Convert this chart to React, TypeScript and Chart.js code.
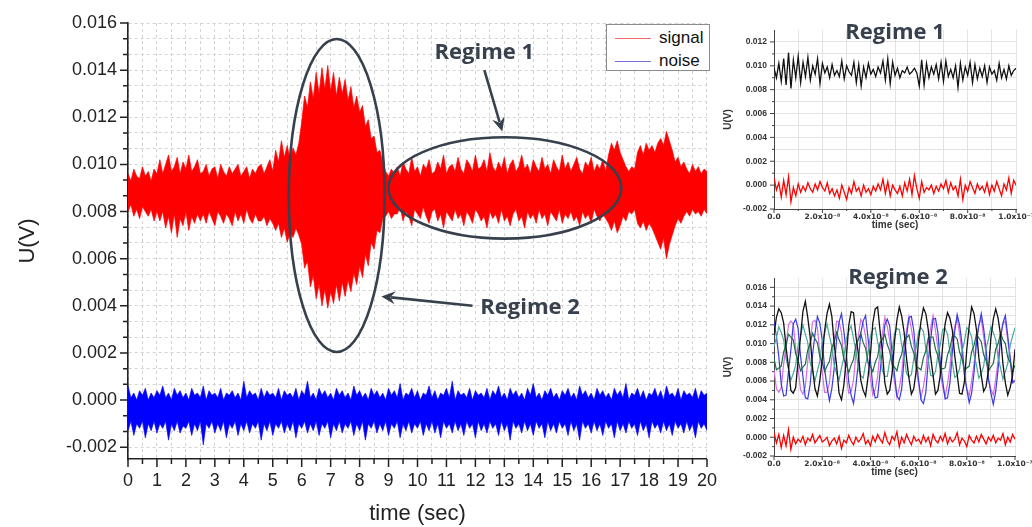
import React, { useEffect, useRef } from 'react';
import { Chart, registerables } from 'chart.js';

Chart.register(...registerables);

const FONT = "'Liberation Sans', Arial, Helvetica, sans-serif";
const SUP_FONT = "'DejaVu Sans', 'Liberation Sans', sans-serif";
const NOTE_FONT = "'Open Sans', 'DejaVu Sans', sans-serif";
const NOTE_COLOR = '#37404d';

// ---------------- main chart (values in mV, one sample every MAIN_DT s) ----------------
const MAIN_DT = 0.1;
const MAIN_X_TICKS = [0, 1, 2, 3, 4, 5, 6, 7, 8, 9, 10, 11, 12, 13, 14, 15, 16, 17, 18, 19, 20];
const MAIN_Y_TICKS = [-0.002, 0, 0.002, 0.004, 0.006, 0.008, 0.01, 0.012, 0.014, 0.016];

const SIGNAL_UPPER_MV = [
  9.6, 9.3, 9.8, 9.5, 9.4, 9.9, 9.5, 9.7, 9.3, 9.8, 9.6,
  10.2, 9.6, 10.0, 10.4, 9.7, 9.9, 10.3, 9.6, 10.1, 9.8, 10.4, 9.7, 9.9, 10.2, 9.6,
  9.7, 10.0, 9.5, 9.8, 9.9, 9.4, 10.0, 9.7, 9.5, 9.9, 9.6, 9.8, 10.0, 9.5, 9.7, 9.9, 9.4, 9.8, 9.6, 9.9,
  10.0, 9.6, 9.9, 10.2, 9.7,
  10.6, 10.1, 11.0, 10.3, 10.8, 10.2, 10.7, 10.4, 10.9,
  11.8, 12.9, 12.4, 13.5, 12.8, 13.9, 13.0, 14.1, 13.2, 14.2, 13.1, 13.9, 12.9, 13.7, 13.0,
  13.6, 12.7, 13.3, 12.4, 12.9, 12.2, 12.5, 11.6, 11.9, 11.1, 11.2, 10.5, 10.6, 10.1,
  9.7, 9.5, 9.8, 9.6,
  9.9, 9.5, 10.1, 9.8, 9.6, 10.3, 9.7, 9.9, 9.5, 10.0,
  9.8, 10.2, 9.6, 9.7, 10.1, 9.8, 10.4, 9.6, 9.9, 10.0,
  9.7, 10.3, 9.8, 9.6, 10.2, 10.0, 9.7, 10.4, 9.8, 9.9,
  10.2, 9.7, 10.5, 9.9, 9.7, 10.1, 9.8, 10.3, 9.6, 10.0,
  10.2, 9.7, 9.9, 10.4, 9.8, 10.0, 9.6, 10.2, 9.9, 9.7,
  10.3, 9.8, 10.0, 9.6, 10.2, 9.9, 9.7, 10.4, 9.8, 10.1,
  9.7, 10.0, 10.3, 9.8, 9.6, 10.1, 9.9, 10.3, 9.7, 10.0,
  9.8, 10.2, 9.7,
  10.4, 10.9, 10.6, 11.0, 10.5, 10.2, 9.9,
  9.7, 9.9, 9.8,
  10.5, 10.8, 10.4, 10.9, 10.6, 10.8, 10.5,
  10.9, 11.1, 10.8, 11.4, 11.0, 10.6,
  10.1, 10.3, 9.9, 10.1,
  9.8, 9.6, 10.0, 9.7, 9.9, 9.6, 9.8, 9.7,
];

const SIGNAL_LOWER_MV = [
  8.0, 8.3, 7.8, 8.1, 7.7, 8.2, 8.0, 7.8, 8.1, 7.6, 8.0,
  7.6, 8.0, 7.3, 7.8, 7.1, 7.9, 6.9, 7.7, 7.4, 8.0, 7.2, 7.8, 7.5, 7.9, 7.6,
  7.9, 7.5, 8.0, 7.7, 7.4, 8.0, 7.8, 7.5, 7.9, 7.7, 7.4, 8.0, 7.6, 7.9, 7.5, 8.1, 7.7, 7.5, 7.9, 7.6,
  7.6, 7.8, 7.4, 7.7, 7.5,
  7.2, 7.5, 6.9, 7.3, 6.7, 7.1, 6.9, 7.3, 7.0,
  6.6, 5.6, 5.9, 4.8, 5.3, 4.3, 4.9, 4.0, 4.7, 3.9, 4.6, 4.1, 4.9, 4.2, 5.0,
  4.4, 5.1, 4.6, 5.4, 4.9, 5.7, 5.2, 6.2, 5.7, 6.7, 6.4, 7.2, 7.1, 7.7,
  7.8, 8.0, 7.7, 7.9,
  7.9, 8.2, 7.6, 8.0, 7.8, 7.4, 8.1, 7.9, 7.7, 8.2,
  7.8, 7.5, 8.0, 8.1, 7.6, 7.9, 7.3, 8.0, 7.8, 7.6,
  8.1, 7.7, 7.9, 7.4, 8.0, 7.8, 7.5, 8.1, 7.9, 7.6,
  7.8, 7.3, 8.0, 7.7, 7.9, 7.5, 8.1, 7.6, 7.8, 7.4,
  7.9, 8.1, 7.6, 7.8, 7.3, 8.0, 7.7, 7.9, 7.5, 8.1,
  7.7, 7.9, 7.4, 8.0, 7.8, 7.6, 8.1, 7.5, 7.9, 7.7,
  8.0, 7.6, 7.8, 7.4, 8.0, 7.7, 7.9, 7.5, 8.1, 7.8,
  7.6, 7.9, 7.7,
  7.5, 7.2, 7.6, 7.1, 7.4, 7.8, 7.6,
  8.0, 7.9, 8.1,
  7.5, 7.3, 7.6, 7.2, 7.5, 7.3, 7.0,
  6.7, 6.4, 6.9, 6.0, 6.6, 7.0,
  7.4, 7.7, 7.5, 7.8,
  8.0, 7.8, 8.1, 7.9, 8.0, 7.8, 8.1, 7.9,
];

const NOISE_UPPER_MV = [
  0.6, 0.1, 0.3, 0.0, 0.4, 0.2, 0.5, 0.0, 0.3, 0.1,
  0.4, 0.2, 0.6, 0.1, 0.3, 0.0, 0.5, 0.2, 0.4, 0.1,
  0.3, 0.0, 0.5, 0.2, 0.3, 0.1, 0.6, 0.0, 0.4, 0.2,
  0.3, 0.1, 0.5, 0.0, 0.3, 0.2, 0.4, 0.1, 0.3, 0.0,
  0.8, 0.1, 0.4, 0.2, 0.3, 0.0, 0.5, 0.1, 0.4, 0.2,
  0.3, 0.1, 0.5, 0.0, 0.4, 0.2, 0.3, 0.1, 0.5, 0.0,
  0.4, 0.2, 0.8, 0.1, 0.3, 0.0, 0.5, 0.2, 0.4, 0.1,
  0.3, 0.0, 0.5, 0.2, 0.4, 0.1, 0.3, 0.0, 0.6, 0.2,
  0.4, 0.1, 0.3, 0.0, 0.5, 0.2, 0.4, 0.1, 0.3, 0.0,
  0.5, 0.2, 0.4, 0.1, 0.7, 0.0, 0.3, 0.2, 0.5, 0.1,
  0.4, 0.0, 0.3, 0.2, 0.6, 0.1, 0.4, 0.0, 0.3, 0.2,
  0.5, 0.1, 0.8, 0.0, 0.4, 0.2, 0.3, 0.1, 0.5, 0.0,
  0.4, 0.2, 0.3, 0.1, 0.5, 0.0, 0.4, 0.2, 0.6, 0.1,
  0.3, 0.0, 0.5, 0.2, 0.4, 0.1, 0.3, 0.0, 0.5, 0.2,
  0.7, 0.1, 0.3, 0.0, 0.4, 0.2, 0.5, 0.1, 0.3, 0.0,
  0.4, 0.2, 0.5, 0.1, 0.3, 0.0, 0.6, 0.2, 0.4, 0.1,
  0.3, 0.0, 0.5, 0.2, 0.4, 0.1, 0.3, 0.0, 0.5, 0.2,
  0.4, 0.1, 0.7, 0.0, 0.3, 0.2, 0.5, 0.1, 0.4, 0.0,
  0.3, 0.2, 0.5, 0.1, 0.4, 0.0, 0.6, 0.2, 0.3, 0.1,
  0.5, 0.0, 0.4, 0.2, 0.3, 0.1, 0.5, 0.0, 0.4, 0.2,
  0.3,
];

const NOISE_LOWER_MV = [
  -1.3, -0.9, -1.5, -1.0, -1.2, -0.9, -1.6, -1.0, -1.3, -0.9,
  -1.4, -1.0, -1.2, -0.9, -1.7, -1.0, -1.3, -0.9, -1.4, -1.1,
  -1.2, -0.9, -1.5, -1.0, -1.3, -0.9, -1.9, -1.0, -1.2, -0.9,
  -1.4, -1.0, -1.3, -0.9, -1.6, -1.0, -1.2, -0.9, -1.5, -1.0,
  -1.3, -0.9, -1.4, -1.0, -1.2, -0.9, -1.7, -1.0, -1.3, -0.9,
  -1.5, -1.0, -1.2, -0.9, -1.4, -1.0, -1.3, -0.9, -1.6, -1.0,
  -1.2, -0.9, -1.4, -1.0, -1.3, -0.9, -1.5, -1.0, -1.2, -0.9,
  -1.6, -1.0, -1.3, -0.9, -1.4, -1.0, -1.2, -0.9, -1.5, -1.0,
  -1.3, -0.9, -1.7, -1.0, -1.2, -0.9, -1.4, -1.0, -1.3, -0.9,
  -1.5, -1.0, -1.2, -0.9, -1.6, -1.0, -1.3, -0.9, -1.4, -1.0,
  -1.2, -0.9, -1.5, -1.0, -1.3, -0.9, -1.4, -1.0, -1.6, -0.9,
  -1.2, -1.0, -1.4, -0.9, -1.3, -1.0, -1.5, -0.9, -1.2, -1.0,
  -1.6, -0.9, -1.3, -1.0, -1.4, -0.9, -1.2, -1.0, -1.5, -0.9,
  -1.3, -1.0, -1.7, -0.9, -1.2, -1.0, -1.4, -0.9, -1.3, -1.0,
  -1.5, -0.9, -1.2, -1.0, -1.6, -0.9, -1.3, -1.0, -1.4, -0.9,
  -1.2, -1.0, -1.5, -0.9, -1.3, -1.0, -1.7, -0.9, -1.2, -1.0,
  -1.4, -0.9, -1.3, -1.0, -1.5, -0.9, -1.2, -1.0, -1.6, -0.9,
  -1.3, -1.0, -1.4, -0.9, -1.2, -1.0, -1.5, -0.9, -1.3, -1.0,
  -1.6, -0.9, -1.2, -1.0, -1.4, -0.9, -1.3, -1.0, -1.5, -0.9,
  -1.2, -1.0, -1.4, -0.9, -1.3, -1.0, -1.6, -0.9, -1.2, -1.0,
  -1.3,
];

// annotations (data coordinates of the main chart)
const ELLIPSE_REGIME2 = { t: 7.21, u: 0.00868, rt: 1.655, ru: 0.00664 };
const ELLIPSE_REGIME1 = { t: 13.02, u: 0.009, rt: 4.02, ru: 0.00215 };
const ARROW_REGIME1 = { t1: 12.31, u1: 0.0140, t2: 12.93, u2: 0.0114 };
const ARROW_REGIME2 = { t1: 11.9, u1: 0.0040, t2: 8.75, u2: 0.0044 };
const LABEL_REGIME1 = { t: 12.31, u: 0.01472, text: 'Regime 1' };
const LABEL_REGIME2 = { t: 12.17, u: 0.00391, text: 'Regime 2' };

// ---------------- inset charts (values in mV, one sample every SMALL_DT s) ----------------
const SMALL_DT = 1e-9;
const SMALL_X_TICKS = [0, 2e-8, 4e-8, 6e-8, 8e-8, 1e-7];
const SMALL_X_TICK_LABELS = ['0.0', '2.0x10⁻⁸', '4.0x10⁻⁸', '6.0x10⁻⁸', '8.0x10⁻⁸', '1.0x10⁻⁷'];
const R1_Y_TICKS = [-0.002, 0, 0.002, 0.004, 0.006, 0.008, 0.01, 0.012];
const R2_Y_TICKS = [-0.002, 0, 0.002, 0.004, 0.006, 0.008, 0.01, 0.012, 0.014, 0.016];

const R1_SIGNAL_MV = [
  9.8, 9.0, 10.2, 8.7, 10.6, 8.4, 11.1, 8.1, 10.5, 9.0,
  10.8, 8.6, 10.3, 9.1, 10.7, 8.8, 10.0, 9.3, 10.6, 8.5,
  10.2, 9.4, 9.9, 9.0, 10.1, 9.2, 9.6, 9.1, 10.4, 8.9,
  10.0, 9.5, 9.2, 10.3, 8.6, 10.1, 8.3, 9.9, 9.0, 10.2,
  9.3, 9.7, 9.1, 9.9, 9.4, 10.4, 8.8, 10.6, 8.5, 10.3,
  9.2, 9.8, 9.0, 9.6, 9.4, 9.9, 9.3, 9.5, 9.8, 9.4,
  8.3, 10.5, 8.4, 10.2, 9.0, 9.9, 9.3, 10.1, 8.9, 10.3,
  8.7, 10.4, 9.1, 9.7, 9.0, 10.0, 8.2, 10.2, 8.8, 9.9,
  9.2, 10.3, 8.6, 10.1, 8.9, 9.8, 9.1, 10.0, 8.6, 9.9,
  9.3, 9.6, 8.8, 10.2, 9.0, 9.7, 8.9, 10.0, 9.2, 9.6,
  9.8,
];
const R1_NOISE_MV = [
  0.6, -0.4, 0.2, -1.0, 0.4, -0.8, 0.7, -1.4, -0.2, -0.9,
  0.1, -0.6, -0.1, -0.5, 0.2, -0.3, -0.6, 0.1, -0.4, 0.3,
  -0.2, -0.5, 0.2, -0.7, -0.3, -0.9, -0.4, -1.1, 0.0, -0.6,
  -1.2, -0.2, -0.7, 0.3, -0.5, -0.2, -0.9, 0.0, -0.6, -0.3,
  -0.8, -0.1, -0.5, 0.1, -0.4, 0.5, -0.7, 0.3, -0.9, 0.0,
  -0.4, -0.7, -0.1, -0.9, 0.2, -0.5, 0.5, -0.8, 0.8, -0.3,
  -1.1, 0.3, -0.6, -0.2, -0.4, 0.0, -0.7, -0.1, -0.5, 0.1,
  -0.3, 0.4, -0.6, 0.2, -0.4, -0.1, -0.9, 0.5, -1.2, 0.0,
  -0.5, 0.3, -0.2, -0.7, 0.1, -0.4, -0.1, -0.6, 0.2, -0.8,
  0.0, -0.5, 0.3, -0.3, -0.9, 0.1, -0.4, 0.6, -0.7, 0.4,
  0.0,
];

const R2_BLACK_MV = [
  11.0, 12.8, 13.7, 13.3, 12.2, 9.6, 7.5, 5.0, 4.7, 5.3,
  8.2, 10.7, 13.4, 14.5, 12.8, 10.7, 7.4, 5.2, 4.4, 6.0,
  8.3, 11.4, 13.2, 14.2, 12.9, 9.9, 7.6, 4.7, 4.0, 5.6,
  8.4, 11.9, 13.4, 13.3, 10.8, 8.9, 6.1, 5.0, 4.4, 6.4,
  8.8, 12.2, 13.7, 13.9, 11.4, 9.1, 5.8, 4.6, 5.0, 6.8,
  10.2, 12.5, 13.9, 12.9, 11.2, 8.4, 6.3, 4.6, 5.2, 7.1,
  10.4, 12.4, 13.8, 13.2, 11.5, 8.6, 6.6, 4.6, 5.0, 6.6,
  9.8, 12.1, 13.3, 12.7, 11.4, 8.7, 6.7, 4.7, 4.6, 5.9,
  9.4, 11.9, 13.9, 13.2, 11.5, 8.5, 6.6, 4.9, 5.4, 7.2,
  10.6, 12.6, 13.7, 12.7, 10.9, 7.8, 5.8, 4.5, 5.3, 6.6,
  9.4,
];
const R2_BLUE_MV = [
  12.3, 10.8, 8.6, 5.7, 4.4, 4.5, 7.0, 9.3, 12.1, 12.6,
  11.6, 8.7, 6.5, 4.2, 4.1, 5.6, 8.8, 11.0, 12.9, 12.2,
  10.4, 7.3, 5.4, 3.9, 5.2, 7.4, 10.5, 12.3, 13.2, 11.3,
  9.0, 5.9, 4.5, 3.6, 5.5, 8.0, 11.1, 12.4, 13.0, 10.6,
  8.2, 5.4, 4.2, 4.3, 6.9, 9.4, 12.0, 12.6, 11.9, 8.9,
  6.7, 4.4, 4.0, 5.2, 8.5, 10.8, 12.8, 12.9, 11.4, 8.3,
  6.1, 4.0, 3.6, 4.8, 8.1, 10.4, 12.6, 12.7, 11.2, 8.0,
  6.0, 4.1, 4.2, 5.8, 9.1, 11.3, 13.1, 12.0, 10.0, 6.8,
  5.1, 3.7, 4.7, 6.9, 10.1, 11.9, 13.2, 11.6, 9.4, 6.2,
  4.7, 3.5, 4.9, 7.3, 10.6, 12.2, 13.0, 10.8, 8.5, 5.8,
  6.0,
];
const R2_MAGENTA_MV = [
  7.2, 5.2, 4.8, 5.3, 7.8, 9.7, 12.0, 12.4, 12.1, 9.5,
  7.4, 5.1, 4.6, 5.4, 8.1, 10.1, 12.3, 12.5, 11.7, 9.0,
  7.0, 4.8, 4.8, 5.8, 8.5, 10.4, 12.4, 12.3, 11.2, 8.5,
  6.6, 4.7, 4.9, 6.1, 9.0, 10.8, 12.6, 12.1, 10.8, 8.0,
  6.3, 4.5, 5.1, 6.5, 9.3, 11.1, 12.8, 11.8, 10.3, 7.6,
  5.9, 4.3, 5.3, 6.8, 9.7, 11.4, 12.9, 11.6, 9.9, 7.2,
  5.7, 4.2, 5.4, 7.1, 10.0, 11.7, 13.0, 11.4, 9.5, 6.8,
  5.4, 4.3, 5.7, 7.5, 10.3, 11.8, 12.7, 11.0, 9.2, 6.5,
  5.2, 4.4, 6.0, 7.8, 10.6, 12.0, 12.6, 10.7, 8.8, 6.2,
  5.1, 4.5, 6.2, 8.2, 10.9, 12.1, 12.4, 10.3, 8.4, 6.0,
  6.1,
];
const R2_TEAL_MV = [
  9.7, 10.6, 11.8, 11.2, 10.4, 8.4, 7.3, 6.1, 6.8, 7.7,
  9.8, 10.8, 12.0, 11.0, 10.1, 8.0, 7.0, 6.0, 7.1, 8.1,
  10.2, 11.1, 12.1, 10.8, 9.7, 7.7, 6.8, 6.1, 7.4, 8.5,
  10.5, 11.3, 11.9, 10.5, 9.3, 7.3, 6.6, 6.3, 7.8, 8.9,
  10.8, 11.5, 11.7, 10.2, 9.0, 7.1, 6.5, 6.5, 8.1, 9.2,
  11.1, 11.6, 11.5, 9.8, 8.6, 6.8, 6.4, 6.7, 8.4, 9.6,
  11.3, 11.7, 11.3, 9.5, 8.3, 6.6, 6.5, 7.0, 8.8, 9.9,
  11.5, 11.6, 11.0, 9.1, 8.0, 6.4, 6.6, 7.3, 9.1, 10.2,
  11.7, 11.4, 10.7, 8.8, 7.7, 6.3, 6.8, 7.6, 9.5, 10.5,
  11.8, 11.2, 10.4, 8.5, 7.4, 6.2, 7.0, 7.9, 9.8, 10.8,
  11.7,
];
const R2_GREEN_MV = [
  8.4, 7.2, 7.4, 7.6, 9.1, 9.8, 11.0, 10.7, 10.4, 8.9,
  8.2, 7.1, 7.5, 7.8, 9.3, 10.0, 11.1, 10.5, 10.1, 8.6,
  8.0, 7.0, 7.6, 8.1, 9.6, 10.2, 11.2, 10.4, 9.8, 8.3,
  7.8, 6.9, 7.7, 8.3, 9.9, 10.4, 11.1, 10.1, 9.5, 8.0,
  7.6, 7.0, 8.0, 8.6, 10.1, 10.5, 11.0, 9.9, 9.2, 7.8,
  7.5, 7.1, 8.2, 8.9, 10.3, 10.6, 10.9, 9.7, 9.0, 7.6,
  7.4, 7.2, 8.5, 9.2, 10.6, 10.7, 10.7, 9.4, 8.7, 7.4,
  7.3, 7.4, 8.8, 9.5, 10.8, 10.8, 10.5, 9.1, 8.4, 7.2,
  7.4, 7.6, 9.1, 9.8, 11.0, 10.6, 10.2, 8.8, 8.2, 7.1,
  7.5, 7.9, 9.4, 10.0, 11.1, 10.4, 10.0, 8.5, 8.0, 7.0,
  7.7,
];
const R2_NOISE_MV = [
  0.5, -0.6, 0.3, -1.1, 0.2, -0.9, 0.8, -1.3, 0.0, -0.7,
  -0.2, -0.5, 0.1, -0.8, -0.1, -0.4, 0.3, -0.6, -0.2, 0.2,
  -0.5, -0.3, 0.0, -0.9, -0.4, -0.1, -0.7, 0.1, -1.2, -0.3,
  -0.6, 0.2, -0.4, -0.8, 0.0, -0.5, -0.2, 0.4, -0.7, -0.3,
  -0.9, 0.1, -0.5, 0.3, -0.2, -0.6, 0.5, -0.4, -0.8, 0.1,
  -0.3, 0.6, -1.0, 0.0, -0.6, 0.3, -0.3, -0.8, 0.1, -0.4,
  -0.2, -0.7, 0.2, -0.5, 0.0, -0.9, 0.3, -0.3, -0.6, 0.1,
  -0.4, 0.4, -0.7, 0.0, -0.5, -0.2, 0.5, -0.8, -0.1, -0.4,
  -1.0, 0.2, -0.3, -0.6, 0.1, -0.5, 0.3, -0.2, -0.7, 0.0,
  -0.4, 0.2, -0.6, -0.1, -0.3, 0.4, -0.8, 0.0, -0.5, 0.3,
  -0.2,
];

// ---------------- helpers ----------------
const toPoints = (mv: number[], dt: number) => mv.map((v, i) => ({ x: i * dt, y: v / 1000 }));

function withMinor(majors: number[], parts: number): number[] {
  const out: number[] = [];
  for (let i = 0; i < majors.length; i++) {
    out.push(majors[i]);
    if (i < majors.length - 1) {
      for (let k = 1; k < parts; k++) out.push(majors[i] + ((majors[i + 1] - majors[i]) * k) / parts);
    }
  }
  return out;
}

function majorIndex(v: number, majors: number[], tol: number) {
  return majors.findIndex((m) => Math.abs(m - v) < tol);
}

function tickMarksPlugin(cfg: {
  xMajors: number[]; yMajors: number[]; xTol: number; yTol: number;
  major: number; minor: number; color: string; width: number;
}) {
  return {
    id: 'tickMarks',
    afterDraw(chart: any) {
      const { ctx, chartArea } = chart;
      const xs = chart.scales.x;
      const ys = chart.scales.y;
      ctx.save();
      ctx.strokeStyle = cfg.color;
      ctx.lineWidth = cfg.width;
      ctx.beginPath();
      ys.ticks.forEach((t: any) => {
        const y = ys.getPixelForValue(t.value);
        const len = majorIndex(t.value, cfg.yMajors, cfg.yTol) >= 0 ? cfg.major : cfg.minor;
        ctx.moveTo(chartArea.left - len, y);
        ctx.lineTo(chartArea.left, y);
      });
      xs.ticks.forEach((t: any) => {
        const x = xs.getPixelForValue(t.value);
        const len = majorIndex(t.value, cfg.xMajors, cfg.xTol) >= 0 ? cfg.major : cfg.minor;
        ctx.moveTo(x, chartArea.bottom);
        ctx.lineTo(x, chartArea.bottom + len);
      });
      ctx.stroke();
      ctx.restore();
    },
  };
}

function drawArrow(ctx: CanvasRenderingContext2D, x1: number, y1: number, x2: number, y2: number) {
  const a = Math.atan2(y2 - y1, x2 - x1);
  const L = 14;
  const W = 6.5;
  const c = Math.cos(a);
  const s = Math.sin(a);
  ctx.beginPath();
  ctx.moveTo(x1, y1);
  ctx.lineTo(x2 - L * 0.7 * c, y2 - L * 0.7 * s);
  ctx.stroke();
  ctx.beginPath();
  ctx.moveTo(x2, y2);
  ctx.lineTo(x2 - L * c + W * s, y2 - L * s - W * c);
  ctx.lineTo(x2 - L * 0.65 * c, y2 - L * 0.65 * s);
  ctx.lineTo(x2 - L * c - W * s, y2 - L * s + W * c);
  ctx.closePath();
  ctx.fill();
}

const annotationPlugin = {
  id: 'regimeNotes',
  afterDatasetsDraw(chart: any) {
    const { ctx } = chart;
    const xs = chart.scales.x;
    const ys = chart.scales.y;
    const px = (t: number) => xs.getPixelForValue(t);
    const py = (u: number) => ys.getPixelForValue(u);
    ctx.save();
    ctx.strokeStyle = NOTE_COLOR;
    ctx.fillStyle = NOTE_COLOR;
    ctx.lineWidth = 2.6;
    [ELLIPSE_REGIME2, ELLIPSE_REGIME1].forEach((e) => {
      const cx = px(e.t);
      const cy = py(e.u);
      ctx.beginPath();
      ctx.ellipse(cx, cy, px(e.t + e.rt) - cx, cy - py(e.u + e.ru), 0, 0, Math.PI * 2);
      ctx.stroke();
    });
    [ARROW_REGIME1, ARROW_REGIME2].forEach((a) => drawArrow(ctx, px(a.t1), py(a.u1), px(a.t2), py(a.u2)));
    ctx.font = `bold 22px ${NOTE_FONT}`;
    ctx.textBaseline = 'middle';
    ctx.textAlign = 'center';
    ctx.fillText(LABEL_REGIME1.text, px(LABEL_REGIME1.t), py(LABEL_REGIME1.u));
    ctx.textAlign = 'left';
    ctx.fillText(LABEL_REGIME2.text, px(LABEL_REGIME2.t), py(LABEL_REGIME2.u));
    ctx.restore();
  },
};

function titlePlugin(text: string, x: number, y: number) {
  return {
    id: 'insetTitle',
    afterDraw(chart: any) {
      const { ctx } = chart;
      ctx.save();
      ctx.font = `bold 22px ${NOTE_FONT}`;
      ctx.fillStyle = NOTE_COLOR;
      ctx.textAlign = 'center';
      ctx.textBaseline = 'middle';
      ctx.fillText(text, x, y);
      ctx.restore();
    },
  };
}

function makeMainChart(canvas: HTMLCanvasElement) {
  const xTicks = withMinor(MAIN_X_TICKS, 2);
  const yTicks = withMinor(MAIN_Y_TICKS, 3);
  const gridCommon = { color: '#d3d3d3', lineWidth: 1, tickLength: 8, tickColor: 'rgba(0,0,0,0)' };
  return new Chart(canvas, {
    type: 'line',
    data: {
      datasets: [
        { label: 'signal', data: toPoints(SIGNAL_UPPER_MV, MAIN_DT), borderColor: 'rgba(255,0,0,0.7)', borderWidth: 1, pointRadius: 0, fill: false },
        { label: 'signal', data: toPoints(SIGNAL_LOWER_MV, MAIN_DT), borderColor: 'rgba(255,0,0,0.7)', backgroundColor: '#ff0000', borderWidth: 1, pointRadius: 0, fill: '-1' },
        { label: 'noise', data: toPoints(NOISE_UPPER_MV, MAIN_DT), borderColor: 'rgba(0,0,255,0.65)', borderWidth: 1, pointRadius: 0, fill: false },
        { label: 'noise', data: toPoints(NOISE_LOWER_MV, MAIN_DT), borderColor: 'rgba(0,0,255,0.65)', backgroundColor: '#0000ff', borderWidth: 1, pointRadius: 0, fill: '-1' },
      ],
    },
    options: {
      responsive: false,
      animation: false,
      devicePixelRatio: 1,
      layout: { padding: { left: 11, top: 23, right: 12, bottom: 0 } },
      plugins: { legend: { display: false }, tooltip: { enabled: false } },
      elements: { line: { tension: 0 } },
      scales: {
        x: {
          type: 'linear', min: 0, max: 20,
          afterBuildTicks: (s: any) => { s.ticks = xTicks.map((v) => ({ value: v })); },
          afterFit: (s: any) => { s.height = 68; },
          grid: gridCommon,
          border: { display: true, color: '#222', width: 1.6, dash: [3, 3] },
          ticks: {
            autoSkip: false, maxRotation: 0, padding: 3, color: '#222',
            font: { family: FONT, size: 18 },
            callback: (v: any) => { const i = majorIndex(Number(v), MAIN_X_TICKS, 1e-6); return i >= 0 ? String(MAIN_X_TICKS[i]) : ''; },
          },
          title: { display: true, text: 'time (sec)', color: '#222', font: { family: FONT, size: 22 }, padding: { top: 0, bottom: 0 } },
        },
        y: {
          type: 'linear', min: -0.0025, max: 0.016,
          afterBuildTicks: (s: any) => { s.ticks = yTicks.map((v) => ({ value: v })); },
          afterFit: (s: any) => { s.width = 117; },
          grid: gridCommon,
          border: { display: true, color: '#222', width: 1.6, dash: [3, 3] },
          ticks: {
            autoSkip: false, padding: 3, color: '#222',
            font: { family: FONT, size: 18 },
            callback: (v: any) => { const i = majorIndex(Number(v), MAIN_Y_TICKS, 1e-8); return i >= 0 ? MAIN_Y_TICKS[i].toFixed(3) : ''; },
          },
          title: { display: true, text: 'U(V)', color: '#222', font: { family: FONT, size: 22 }, padding: { top: 4, bottom: 4 } },
        },
      },
    },
    plugins: [
      annotationPlugin,
      tickMarksPlugin({ xMajors: MAIN_X_TICKS, yMajors: MAIN_Y_TICKS, xTol: 1e-6, yTol: 1e-8, major: 8, minor: 5, color: '#222', width: 1.5 }),
    ],
  } as any);
}

function makeInset(
  canvas: HTMLCanvasElement,
  cfg: {
    datasets: any[]; yTicks: number[]; yMin: number; yMax: number;
    padding: any; xHeight: number; title: string; titleX: number; titleY: number;
  },
) {
  const xTicks = withMinor(SMALL_X_TICKS, 2);
  const yTicks = withMinor(cfg.yTicks, 2);
  const gridCommon = { color: '#e3e3e3', lineWidth: 1, tickLength: 4, tickColor: 'rgba(0,0,0,0)' };
  const tickFont = { family: FONT, size: 8.5, weight: 'bold' as const };
  const xTickFont = { family: SUP_FONT, size: 7.5, weight: 'bold' as const };
  const titleFont = { family: FONT, size: 10, weight: 'bold' as const };
  return new Chart(canvas, {
    type: 'line',
    data: { datasets: cfg.datasets },
    options: {
      responsive: false,
      animation: false,
      devicePixelRatio: 1,
      layout: { padding: cfg.padding },
      plugins: { legend: { display: false }, tooltip: { enabled: false } },
      elements: { line: { tension: 0 }, point: { radius: 0 } },
      scales: {
        x: {
          type: 'linear', min: 0, max: 1e-7,
          afterBuildTicks: (s: any) => { s.ticks = xTicks.map((v) => ({ value: v })); },
          afterFit: (s: any) => { s.height = cfg.xHeight; },
          grid: { ...gridCommon, tickLength: 3 },
          border: { display: true, color: '#444', width: 1 },
          ticks: {
            autoSkip: false, maxRotation: 0, padding: 1, color: '#333', font: xTickFont,
            callback: (v: any) => { const i = majorIndex(Number(v), SMALL_X_TICKS, 1e-12); return i >= 0 ? SMALL_X_TICK_LABELS[i] : ''; },
          },
          title: { display: true, text: 'time (sec)', color: '#333', font: titleFont, padding: { top: 0, bottom: 0 } },
        },
        y: {
          type: 'linear', min: cfg.yMin, max: cfg.yMax,
          afterBuildTicks: (s: any) => { s.ticks = yTicks.map((v) => ({ value: v })); },
          afterFit: (s: any) => { s.width = 56; },
          grid: gridCommon,
          border: { display: true, color: '#444', width: 1 },
          ticks: {
            autoSkip: false, padding: 3, color: '#333', font: tickFont,
            callback: (v: any) => { const i = majorIndex(Number(v), cfg.yTicks, 1e-8); return i >= 0 ? cfg.yTicks[i].toFixed(3) : ''; },
          },
          title: { display: true, text: 'U(V)', color: '#333', font: titleFont, padding: { top: 4, bottom: 4 } },
        },
      },
    },
    plugins: [
      titlePlugin(cfg.title, cfg.titleX, cfg.titleY),
      tickMarksPlugin({ xMajors: SMALL_X_TICKS, yMajors: cfg.yTicks, xTol: 1e-12, yTol: 1e-8, major: 4, minor: 2, color: '#444', width: 1 }),
    ],
  } as any);
}

const line = (label: string, mv: number[], color: string, width = 1.2) => ({
  label, data: toPoints(mv, SMALL_DT), borderColor: color, borderWidth: width, pointRadius: 0, fill: false,
});

export default function App() {
  const mainRef = useRef<HTMLCanvasElement>(null);
  const r1Ref = useRef<HTMLCanvasElement>(null);
  const r2Ref = useRef<HTMLCanvasElement>(null);

  useEffect(() => {
    const charts: Chart[] = [];
    if (mainRef.current) charts.push(makeMainChart(mainRef.current));
    if (r1Ref.current) {
      charts.push(makeInset(r1Ref.current, {
        datasets: [line('Regime 1 signal', R1_SIGNAL_MV, '#111111', 1.3), line('noise', R1_NOISE_MV, '#ff0000', 1.3)],
        yTicks: R1_Y_TICKS, yMin: -0.002, yMax: 0.013,
        padding: { left: 3, top: 30, right: 18, bottom: 29 }, xHeight: 22,
        title: 'Regime 1', titleX: 180, titleY: 33,
      }));
    }
    if (r2Ref.current) {
      charts.push(makeInset(r2Ref.current, {
        datasets: [
          line('black', R2_BLACK_MV, '#111111', 1.3),
          line('green', R2_GREEN_MV, '#1f6b45'),
          line('teal', R2_TEAL_MV, '#48a89a'),
          line('blue', R2_BLUE_MV, '#3a3ae0'),
          line('magenta', R2_MAGENTA_MV, '#d56fe3'),
          line('noise', R2_NOISE_MV, '#ff0000', 1.3),
        ],
        yTicks: R2_Y_TICKS, yMin: -0.002, yMax: 0.017,
        padding: { left: 3, top: 18, right: 20, bottom: 49 }, xHeight: 22,
        title: 'Regime 2', titleX: 183, titleY: 18,
      }));
    }
    return () => charts.forEach((c) => c.destroy());
  }, []);

  return (
    <div style={{ position: 'absolute', left: 0, top: 0, width: 1032, height: 527, overflow: 'hidden', background: '#fff' }}>
      <canvas ref={mainRef} width={720} height={527} style={{ position: 'absolute', left: 0, top: 0 }} />
      <canvas ref={r1Ref} width={320} height={260} style={{ position: 'absolute', left: 715, top: 0 }} />
      <canvas ref={r2Ref} width={320} height={267} style={{ position: 'absolute', left: 715, top: 260 }} />
      <div
        style={{
          position: 'absolute', left: 606, top: 24, width: 102, height: 45,
          border: '1px solid #8c8c8c', background: '#fff', fontFamily: FONT, fontSize: 17, color: '#111',
        }}
      >
        <div style={{ position: 'absolute', left: 8, top: 3, height: 20, lineHeight: '20px', display: 'flex', alignItems: 'center', whiteSpace: 'nowrap' }}>
          <span style={{ display: 'inline-block', width: 36, borderTop: '1px solid #f06a6a', marginRight: 8 }} />
          signal
        </div>
        <div style={{ position: 'absolute', left: 8, top: 26, height: 20, lineHeight: '20px', display: 'flex', alignItems: 'center', whiteSpace: 'nowrap' }}>
          <span style={{ display: 'inline-block', width: 36, borderTop: '1px solid #7070d8', marginRight: 8 }} />
          noise
        </div>
      </div>
    </div>
  );
}
